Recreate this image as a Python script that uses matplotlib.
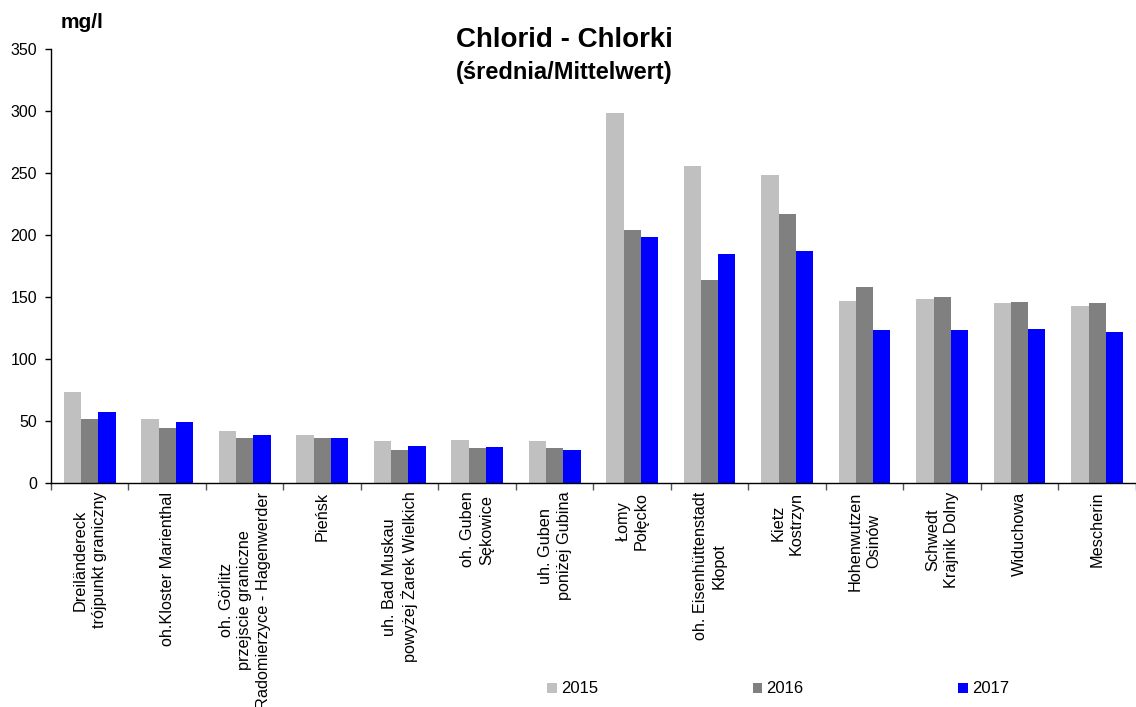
import matplotlib
matplotlib.use("Agg")
import matplotlib.pyplot as plt
import numpy as np

plt.rcParams['font.family'] = ['Liberation Sans', 'DejaVu Sans']

categories = [
    "Dreiländereck\ntrójpunkt graniczny",
    "oh.Kloster Marienthal",
    "oh. Görlitz\nprzejscie graniczne\nRadomierzyce - Hagenwerder",
    "Pieńsk",
    "uh. Bad Muskau\npowyżej Żarek Wielkich",
    "oh. Guben\nSękowice",
    "uh. Guben\nponiżej Gubina",
    "Łomy\nPołęcko",
    "oh. Eisenhüttenstadt\nKłopot",
    "Kietz\nKostrzyn",
    "Hohenwutzen\nOsinów",
    "Schwedt\nKrajnik Dolny",
    "Widuchowa",
    "Mescherin",
]
years = ["2015", "2016", "2017"]
v2015 = [73, 52, 42, 39, 34, 35, 34, 298, 256, 248, 147, 148, 145, 143]
v2016 = [52, 44, 36, 36, 27, 28, 28, 204, 164, 217, 158, 150, 146, 145]
v2017 = [57, 49, 39, 36, 30, 29, 27, 198, 185, 187, 123, 123, 124, 122]
colors = ["#C0C0C0", "#808080", "#0000FF"]

fig = plt.figure(figsize=(11.36, 7.07), dpi=100)
ax = fig.add_axes([0.0449, 0.3168, 0.955, 0.6139])

x = np.arange(len(categories))
w = 0.222
for i, (vals, c, lab) in enumerate(zip([v2015, v2016, v2017], colors, years)):
    ax.bar(x + (i - 1) * w, vals, width=w, color=c, label=lab, linewidth=0)

ax.set_xlim(-0.5, len(categories) - 0.5)
ax.set_ylim(0, 350)
ax.set_yticks(range(0, 351, 50))
ax.tick_params(axis='y', labelsize=11.5, direction='out', length=4, width=1, pad=6)
ax.spines['top'].set_visible(False)
ax.spines['right'].set_visible(False)
ax.spines['left'].set_linewidth(1)
ax.spines['bottom'].set_linewidth(1)

# ticks at category boundaries
ax.set_xticks(np.arange(len(categories) + 1) - 0.5)
ax.set_xticklabels([])
ax.tick_params(axis='x', direction='out', length=5, width=1, color='#555555')
for xi, lab in zip(x, categories):
    ax.text(xi, -7, lab, rotation=90, ha='center', va='top', multialignment='center',
            fontsize=11.7, linespacing=1.3)

fig.text(0.497, 0.943, "Chlorid - Chlorki", ha='center', va='center',
         fontsize=20, fontweight='bold')
fig.text(0.497, 0.898, "(średnia/Mittelwert)", ha='center', va='center',
         fontsize=17, fontweight='bold')
fig.text(0.053, 0.968, "mg/l", ha='left', va='center', fontsize=15, fontweight='bold')

fig.legend(loc='center', bbox_to_anchor=(0.685, 0.0255), ncol=3, frameon=False,
           fontsize=12, handlelength=0.55, handleheight=0.55, handletextpad=0.25,
           columnspacing=9.3)

fig.savefig("out.png", dpi=100)
